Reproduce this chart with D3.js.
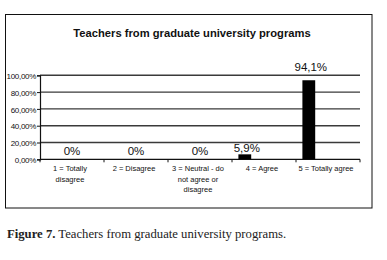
<!DOCTYPE html>
<html>
<head>
<meta charset="utf-8">
<script src="https://cdn.jsdelivr.net/npm/d3@7"></script>
<style>
  html, body { margin: 0; padding: 0; background: #fff; }
</style>
</head>
<body>
<div id="chart"></div>
<script>
const categories = [
  ["1 = Totally", "disagree"],
  ["2 = Disagree"],
  ["3 = Neutral - do", "not agree or", "disagree"],
  ["4 = Agree"],
  ["5 = Totally agree"]
];
const values = [0, 0, 0, 5.9, 94.1];
const valueLabels = ["0%", "0%", "0%", "5,9%", "94,1%"];
const yTicks = [0, 20, 40, 60, 80, 100];
const yTickLabels = ["0,00%", "20,00%", "40,00%", "60,00%", "80,00%", "100,00%"];

(function() {
  const width = 387, height = 260;
  const plot = { left: 40, right: 360, top: 75.3, bottom: 159.3 };

  const svg = d3.select("#chart").append("svg")
    .attr("width", width).attr("height", height);

  // chart frame
  svg.append("rect")
    .attr("x", 5.5).attr("y", 14.5)
    .attr("width", 366.5).attr("height", 193.5)
    .attr("fill", "#fff").attr("stroke", "#111").attr("stroke-width", 1);

  svg.append("text")
    .attr("x", 192).attr("y", 36.5)
    .attr("text-anchor", "middle")
    .style("font-family", "'Liberation Sans', Arial, sans-serif")
    .style("font-size", "11.2px").style("font-weight", "bold")
    .style("fill", "#111")
    .text("Teachers from graduate university programs");

  const x = d3.scaleBand().domain(d3.range(categories.length))
    .range([plot.left, plot.right]).padding(0);
  const y = d3.scaleLinear().domain([0, 100]).range([plot.bottom, plot.top]);
  const bw = x.bandwidth();

  // gridlines
  svg.append("g").selectAll("line")
    .data(yTicks.filter(d => d > 0))
    .join("line")
    .attr("x1", plot.left).attr("x2", plot.right)
    .attr("y1", d => y(d)).attr("y2", d => y(d))
    .attr("stroke", "#3a3a3a").attr("stroke-width", 1.4);

  // y axis
  const yAxis = svg.append("g")
    .attr("transform", `translate(${plot.left},0)`)
    .call(d3.axisLeft(y).tickValues(yTicks).tickSize(3).tickPadding(1)
      .tickFormat((d, i) => yTickLabels[i]));
  yAxis.select(".domain").attr("stroke", "#111").attr("stroke-width", 1.2);
  yAxis.selectAll(".tick line").attr("stroke", "#111");
  yAxis.selectAll("text")
    .style("font-family", "'Liberation Sans', Arial, sans-serif")
    .style("font-size", "8px").style("letter-spacing", "-0.3px")
    .attr("dy", "0.4em").attr("fill", "#111");

  // x axis
  const xAxis = svg.append("g")
    .attr("transform", `translate(0,${plot.bottom})`);
  xAxis.append("line")
    .attr("x1", plot.left).attr("x2", plot.right)
    .attr("stroke", "#111").attr("stroke-width", 1.2);
  xAxis.selectAll("line.tick")
    .data(d3.range(categories.length + 1))
    .join("line").attr("class", "tick")
    .attr("x1", d => plot.left + d * bw).attr("x2", d => plot.left + d * bw)
    .attr("y1", 0).attr("y2", 3)
    .attr("stroke", "#111");

  const catText = xAxis.selectAll("text.cat")
    .data(categories)
    .join("text").attr("class", "cat")
    .attr("text-anchor", "middle")
    .style("font-family", "'Liberation Sans', Arial, sans-serif")
    .style("font-size", "7.5px")
    .attr("fill", "#111");
  catText.selectAll("tspan")
    .data((d, i) => d.map(t => ({ t, i })))
    .join("tspan")
    .attr("x", d => x(d.i) + bw / 2 - 2)
    .attr("y", (d, j) => 11.7 + j * 10.7)
    .text(d => d.t);

  // bars
  const barX = i => x(i) + bw * 0.1;
  const barW = bw * 0.2;
  svg.append("g").selectAll("rect")
    .data(values)
    .join("rect")
    .attr("x", (d, i) => barX(i))
    .attr("y", d => y(d))
    .attr("width", barW)
    .attr("height", d => plot.bottom - y(d))
    .attr("fill", "#000");

  // value labels
  svg.append("g").selectAll("text")
    .data(values)
    .join("text")
    .attr("x", (d, i) => d > 0 ? barX(i) + barW / 2 + 2 : x(i) + bw / 2)
    .attr("y", d => Math.min(y(d) - 2 - d * 0.08, plot.bottom - 4.5))
    .attr("text-anchor", "middle")
    .style("font-family", "'Liberation Sans', Arial, sans-serif")
    .style("font-size", "11.5px")
    .attr("fill", "#111")
    .text((d, i) => valueLabels[i]);

  // caption
  const cap = svg.append("text")
    .attr("x", 7).attr("y", 238)
    .style("font-family", "'Liberation Serif', 'DejaVu Serif', serif")
    .style("font-size", "12.7px")
    .attr("fill", "#222");
  cap.append("tspan").style("font-weight", "bold").text("Figure 7.");
  cap.append("tspan").text(" Teachers from graduate university programs.");
})();
</script>
</body>
</html>
